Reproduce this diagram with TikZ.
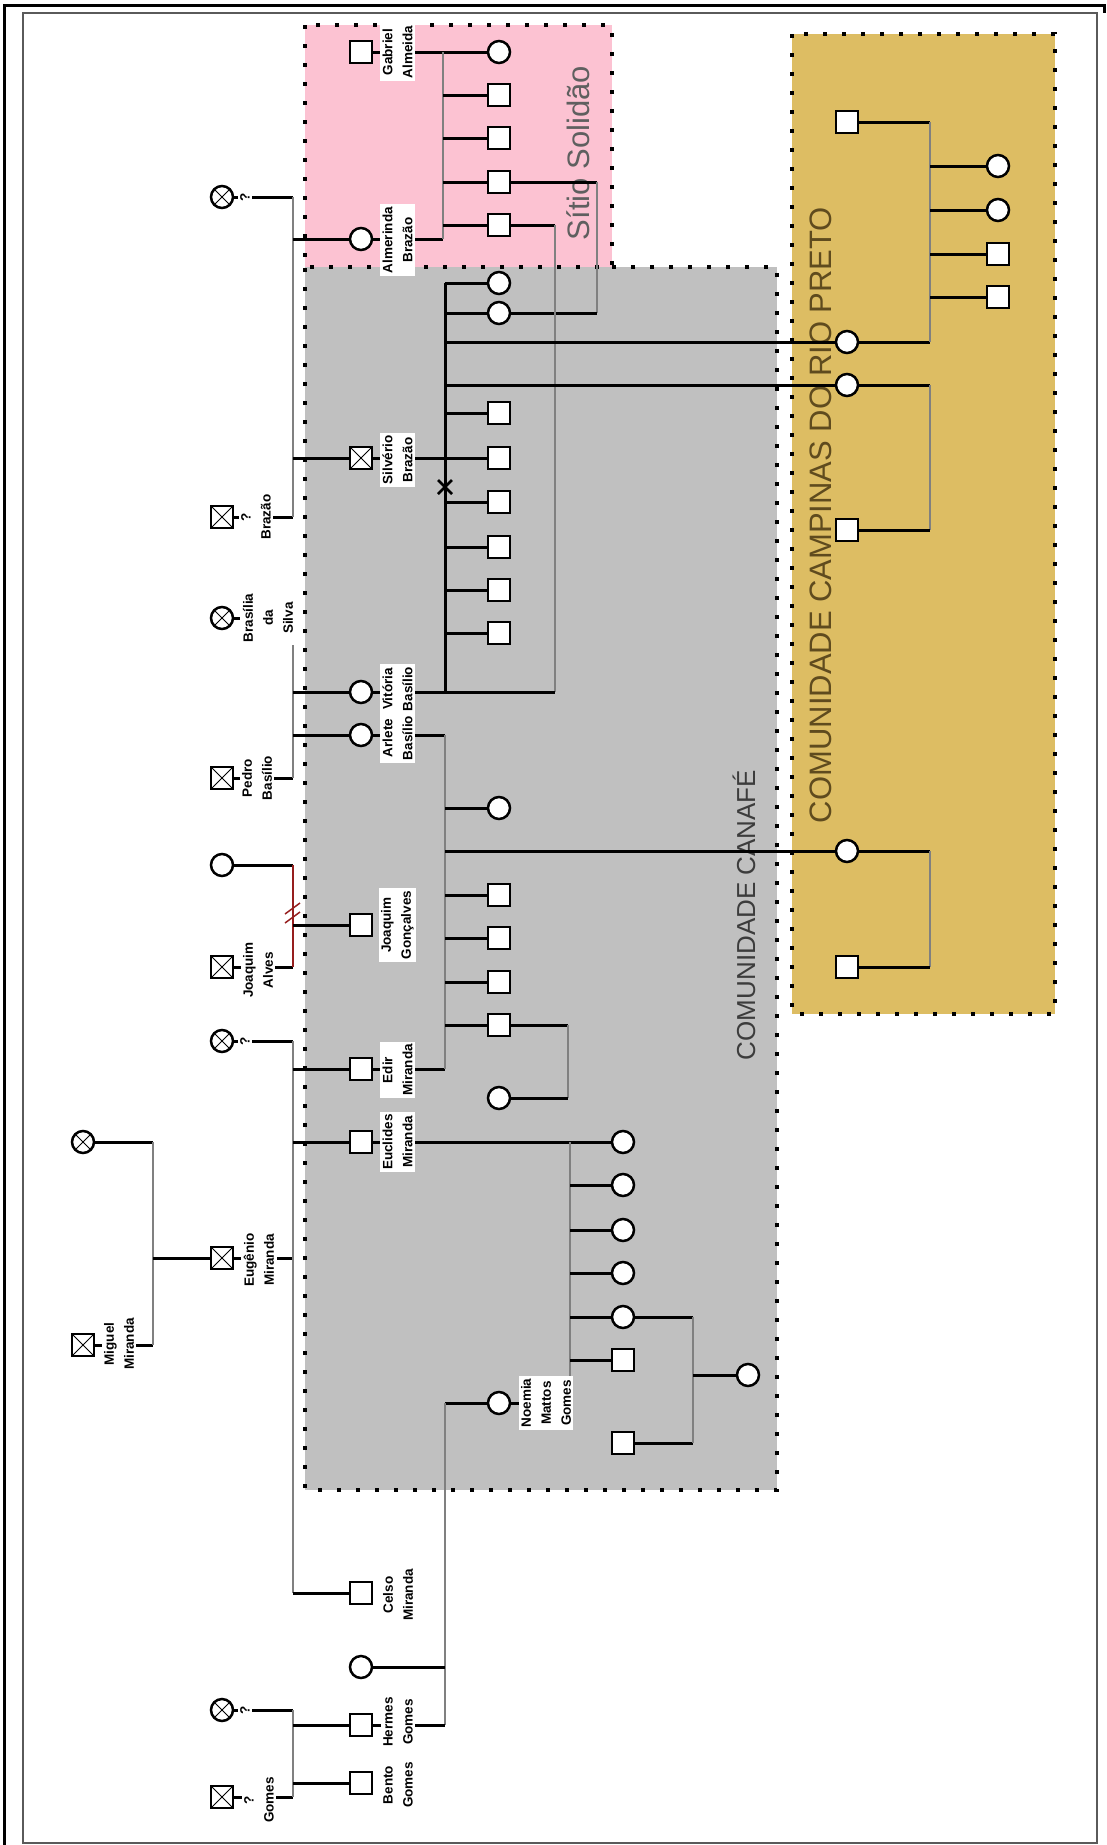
\documentclass[tikz,border=0pt]{standalone}
\usepackage{fontspec}
\setmainfont{Liberation Sans}
\newfontfamily\namefont{Liberation Sans}
\definecolor{pinkc}{RGB}{252,194,210}
\definecolor{grayc}{RGB}{192,192,192}
\definecolor{goldc}{RGB}{221,189,99}
\definecolor{redc}{RGB}{150,30,30}
\definecolor{sibc}{RGB}{128,128,128}
\definecolor{sitc}{RGB}{95,95,95}
\definecolor{canc}{RGB}{60,60,60}
\definecolor{camc}{RGB}{95,75,30}
\definecolor{framec}{RGB}{90,90,90}
\pgfdeclarelayer{bg}
\pgfdeclarelayer{edges}
\pgfsetlayers{bg,edges,main}
\tikzset{
  person/.style={draw=black, line width=2.5pt, fill=white, minimum size=22pt, inner sep=0pt},
  male/.style={person, rectangle},
  female/.style={person, circle},
  deceased/.style={path picture={\draw[line width=1pt] (path picture bounding box.north west) -- (path picture bounding box.south east) (path picture bounding box.north east) -- (path picture bounding box.south west);}},
  namelbl/.style={fill=white, rotate=90, align=center, inner sep=2.5pt,
    font=\namefont\bfseries\fontsize{13.5}{20}\selectfont},
  kin/.style={line width=3pt, black},
  sib/.style={line width=2.2pt, sibc},
  redl/.style={line width=2pt, redc},
  dotbord/.style={line width=4pt, dash pattern=on 4pt off 15pt},
  title/.style={rotate=90, inner sep=0pt}
}
\begin{document}
\begin{tikzpicture}[x=1pt,y=-1pt]
\useasboundingbox (0,0) rectangle (1107,1845);

% ---------- persons ----------
% pink family
\node[male] (gab) at (361,52) {};
\node[female] (alm) at (361,239) {};
\node[female] (pk1) at (499,52) {};
\node[male] (pk2) at (499,95) {};
\node[male] (pk3) at (499,138) {};
\node[male] (pk4) at (499,182) {};
\node[male] (pk5) at (499,225) {};
% Brazao parents
\node[female,deceased] (brzm) at (222,197) {};
\node[male,deceased] (brzp) at (222,517) {};
\node[male,deceased] (sil) at (361,458) {};
% Basilio parents
\node[female,deceased] (bsm) at (222,618) {};
\node[male,deceased] (bsp) at (222,778) {};
\node[female] (vit) at (361,692) {};
\node[female] (arl) at (361,735) {};
% Joaquim
\node[female] (jqm) at (222,865) {};
\node[male,deceased] (jqp) at (222,967) {};
\node[male] (jqg) at (361,925) {};
% Miranda
\node[female,deceased] (mirm) at (222,1041) {};
\node[male,deceased] (eug) at (222,1258) {};
\node[female,deceased] (mgm) at (83,1142) {};
\node[male,deceased] (mig) at (83,1345) {};
\node[male] (edir) at (361,1069) {};
\node[male] (euc) at (361,1142) {};
\node[male] (cel) at (361,1593) {};
% Gomes
\node[female,deceased] (gomm) at (222,1710) {};
\node[male,deceased] (gomp) at (222,1797) {};
\node[male] (her) at (361,1725) {};
\node[male] (ben) at (361,1783) {};
\node[female] (herw) at (361,1667) {};
\node[female] (noe) at (499,1403) {};
% Vitoria's children
\node[female] (vk1) at (499,283) {};
\node[female] (vk2) at (499,313) {};
\node[male] (vk3) at (499,413) {};
\node[male] (vk4) at (499,458) {};
\node[male] (vk5) at (499,502) {};
\node[male] (vk6) at (499,547) {};
\node[male] (vk7) at (499,590) {};
\node[male] (vk8) at (499,633) {};
\node[female] (c1) at (847,342) {};
\node[female] (c2) at (847,385) {};
% Arlete's children
\node[female] (ak1) at (499,808) {};
\node[male] (ak2) at (499,895) {};
\node[male] (ak3) at (499,938) {};
\node[male] (ak4) at (499,982) {};
\node[male] (ak5) at (499,1025) {};
\node[female] (ak5w) at (499,1098) {};
\node[female] (c3) at (847,851) {};
% Euclides' children
\node[female] (ek1) at (623,1142) {};
\node[female] (ek2) at (623,1185) {};
\node[female] (ek3) at (623,1230) {};
\node[female] (ek4) at (623,1273) {};
\node[female] (ek5) at (623,1317) {};
\node[male] (ek6) at (623,1360) {};
\node[male] (ek5h) at (623,1443) {};
\node[female] (ekc) at (748,1375) {};
% Campinas
\node[male] (cp1) at (847,122) {};
\node[female] (cpk1) at (998,166) {};
\node[female] (cpk2) at (998,210) {};
\node[male] (cpk3) at (998,254) {};
\node[male] (cpk4) at (998,297) {};
\node[male] (c2h) at (847,530) {};
\node[male] (c3h) at (847,967) {};

% ---------- labels ----------
\node[namelbl] (lgab) at (397.5,52) {Gabriel\\Almeida};
\node[namelbl] (lalm) at (397.5,240) {Almerinda\\Brazão};
\node[namelbl] (lsil) at (397.5,460) {Silvério\\Brazão};
\node[namelbl] (lvit) at (397.5,689) {Vitória\\Basílio};
\node[namelbl] (larl) at (397.5,738) {Arlete\\Basílio};
\node[namelbl] (ljqg) at (397.5,925) {Joaquim\\Gonçalves};
\node[namelbl] (ledir) at (397.5,1070) {Edir\\Miranda};
\node[namelbl] (leuc) at (397.5,1142) {Euclides\\Miranda};
\node[namelbl] (lnoe) at (546,1403) {Noemia\\Mattos\\Gomes};
\node[namelbl] (lcel) at (398,1595) {Celso\\Miranda};
\node[namelbl] (lher) at (398,1722) {Hermes\\Gomes};
\node[namelbl] (lben) at (398,1785) {Bento\\Gomes};
\node[namelbl] (lq1) at (245,197) {?};
\node[namelbl] (lbrz) at (256,517) {?\\Brazão};
\node[namelbl] (lbsm) at (268,618) {Brasília\\da\\Silva};
\node[namelbl] (lped) at (257,778) {Pedro\\Basílio};
\node[namelbl] (ljqa) at (258,970) {Joaquim\\Alves};
\node[namelbl] (lq2) at (245,1041) {?};
\node[namelbl] (leug) at (259,1260) {Eugênio\\Miranda};
\node[namelbl] (lmig) at (119,1344) {Miguel\\Miranda};
\node[namelbl] (lq3) at (245,1710) {?};
\node[namelbl] (lgom) at (259,1800) {?\\Gomes};

% ---------- vertical line positions ----------
\coordinate (vPk) at (443,0);
\coordinate (vM1) at (597,0);
\coordinate (vM2) at (555,0);
\coordinate (vVk) at (445,0);
\coordinate (vC1) at (930,0);
\coordinate (vL) at (293,0);
\coordinate (vAr) at (445,0);
\coordinate (vM3) at (568,0);
\coordinate (vMg) at (153,0);
\coordinate (vEu) at (570,0);
\coordinate (vM4) at (693,0);
\coordinate (vNo) at (445,0);
\coordinate (xm) at (445,487);
\coordinate (jdv) at (293,912);

% ---------- boxes and titles ----------
\begin{pgfonlayer}{bg}
  \fill[pinkc] (305,25) rectangle (612,267);
  \fill[grayc] (305,267) rectangle (777,1490);
  \fill[goldc] (792,34) rectangle (1055,1014);
  \draw[dotbord] (305,25) rectangle (612,267);
  \draw[dotbord] (612,267) -- (777,267) -- (777,1490) -- (305,1490) -- (305,267);
  \draw[dotbord] (792,34) rectangle (1055,1014);
  \node[title, text=sitc, font=\fontsize{31}{31}\selectfont] (tsit) at (578,153) {Sítio Solidão};
  \node[title, text=canc, font=\fontsize{26}{26}\selectfont] (tcan) at (744,915) {COMUNIDADE CANAFÉ};
  \node[title, text=camc, font=\fontsize{31}{31}\selectfont] (tcam) at (821,515) {COMUNIDADE CAMPINAS DO RIO PRETO};
  % frame
  \draw[line width=3pt] (4.5,1845) -- (4.5,5) -- (1104,5) -- (1104,13);
  \draw[line width=1.6pt, framec] (23,13) rectangle (1097,1843);
\end{pgfonlayer}

% ---------- connectors ----------
\begin{pgfonlayer}{edges}
  % Gabriel + Almerinda
  \draw[kin] (gab) -- (pk1);
  \draw[kin] (alm) -- (alm -| vPk);
  \draw[sib] (gab -| vPk) -- (alm -| vPk);
  \foreach \k in {pk2,pk3,pk4,pk5} \draw[kin] (\k -| vPk) -- (\k);
  \draw[kin] (pk4) -- (pk4 -| vM1);
  \draw[sib] (pk4 -| vM1) -- (vk2 -| vM1);
  \draw[kin] (vk2) -- (vk2 -| vM1);
  \draw[kin] (pk5) -- (pk5 -| vM2);
  \draw[sib] (pk5 -| vM2) -- (vit -| vM2);
  \draw[kin] (vit) -- (vit -| vM2);
  % Brazao parents
  \draw[kin] (brzm) -- (brzm -| vL);
  \draw[kin] (brzp) -- (brzp -| vL);
  \draw[sib] (brzm -| vL) -- (brzp -| vL);
  \draw[kin] (alm -| vL) -- (alm);
  \draw[kin] (sil -| vL) -- (sil);
  % Vitoria's sibship
  \draw[kin] (vk1 -| vVk) -- (vit -| vVk);
  \foreach \k in {vk1,vk2,vk3,vk5,vk6,vk7,vk8,c1,c2} \draw[kin] (\k -| vVk) -- (\k);
  \draw[kin] (sil) -- (vk4);
  \draw[kin, line width=2.5pt] (xm) ++(-7,-7) -- ++(14,14) (xm) ++(7,-7) -- ++(-14,14);
  % Campinas families
  \draw[kin] (c1) -- (c1 -| vC1);
  \draw[kin] (cp1) -- (cp1 -| vC1);
  \draw[sib] (cp1 -| vC1) -- (c1 -| vC1);
  \foreach \k in {cpk1,cpk2,cpk3,cpk4} \draw[kin] (\k -| vC1) -- (\k);
  \draw[kin] (c2) -- (c2 -| vC1);
  \draw[sib] (c2 -| vC1) -- (c2h -| vC1);
  \draw[kin] (c2h) -- (c2h -| vC1);
  \draw[kin] (c3) -- (c3 -| vC1);
  \draw[sib] (c3 -| vC1) -- (c3h -| vC1);
  \draw[kin] (c3h) -- (c3h -| vC1);
  % Basilio parents
  \draw[kin] (bsm) -- (bsm -| vL);
  \draw[kin] (bsp) -- (bsp -| vL);
  \draw[sib] (bsm -| vL) -- (bsp -| vL);
  \draw[kin] (vit -| vL) -- (vit);
  \draw[kin] (arl -| vL) -- (arl);
  % Arlete + Edir
  \draw[kin] (arl) -- (arl -| vAr);
  \draw[kin] (edir) -- (edir -| vAr);
  \draw[sib] (arl -| vAr) -- (edir -| vAr);
  \foreach \k in {ak1,ak2,ak3,ak4,ak5,c3} \draw[kin] (\k -| vAr) -- (\k);
  \draw[kin] (ak5) -- (ak5 -| vM3);
  \draw[sib] (ak5 -| vM3) -- (ak5w -| vM3);
  \draw[kin] (ak5w) -- (ak5w -| vM3);
  % Joaquim
  \draw[kin] (jqm) -- (jqm -| vL);
  \draw[kin] (jqp) -- (jqp -| vL);
  \draw[redl] (jqm -| vL) -- (jqp -| vL);
  \draw[kin] (jqg -| vL) -- (jqg);
  \draw[redl, line width=1.5pt] (jdv) ++(-8,2) -- ++(15,-11) (jdv) ++(-8,11) -- ++(15,-11);
  % Miranda
  \draw[kin] (mirm) -- (mirm -| vL);
  \draw[kin] (eug) -- (eug -| vL);
  \draw[sib] (mirm -| vL) -- (cel -| vL);
  \foreach \k in {edir,euc,cel} \draw[kin] (\k -| vL) -- (\k);
  \draw[kin] (mgm) -- (mgm -| vMg);
  \draw[kin] (mig) -- (mig -| vMg);
  \draw[sib] (mgm -| vMg) -- (mig -| vMg);
  \draw[kin] (eug -| vMg) -- (eug);
  % Euclides + Noemia
  \draw[kin] (euc) -- (ek1);
  \draw[kin] (noe) -- (noe -| vEu);
  \draw[sib] (euc -| vEu) -- (noe -| vEu);
  \foreach \k in {ek2,ek3,ek4,ek5,ek6} \draw[kin] (\k -| vEu) -- (\k);
  \draw[kin] (ek5) -- (ek5 -| vM4);
  \draw[kin] (ek5h) -- (ek5h -| vM4);
  \draw[sib] (ek5 -| vM4) -- (ek5h -| vM4);
  \draw[kin] (ekc -| vM4) -- (ekc);
  % Noemia's parents
  \draw[kin] (noe) -- (noe -| vNo);
  \draw[sib] (noe -| vNo) -- (her -| vNo);
  \draw[kin] (herw) -- (herw -| vNo);
  \draw[kin] (her) -- (her -| vNo);
  % Gomes
  \draw[kin] (gomm) -- (gomm -| vL);
  \draw[kin] (gomp) -- (gomp -| vL);
  \draw[sib] (gomm -| vL) -- (gomp -| vL);
  \draw[kin] (her -| vL) -- (her);
  \draw[kin] (ben -| vL) -- (ben);
\end{pgfonlayer}
\end{tikzpicture}
\end{document}
